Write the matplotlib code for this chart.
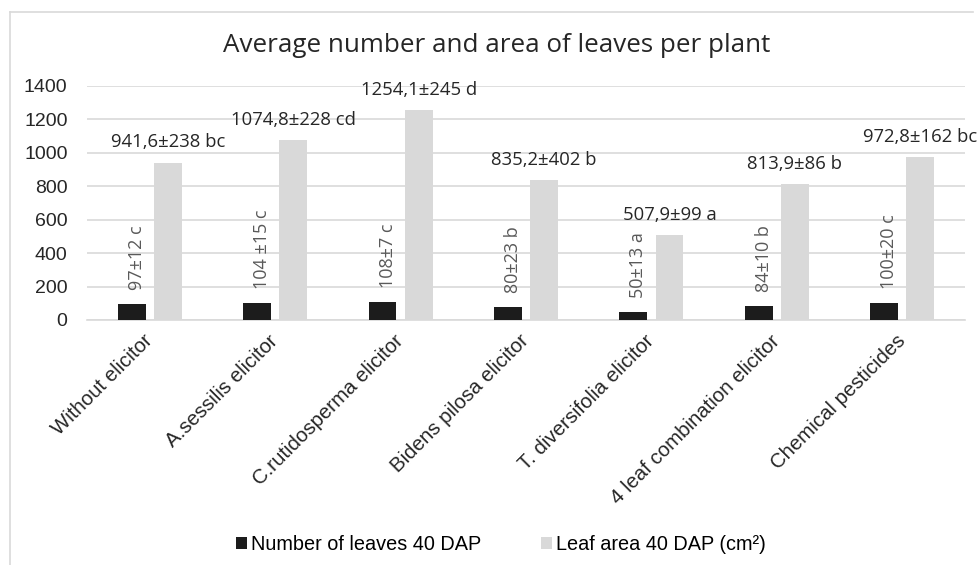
#!/usr/bin/env python3
"""Average number and area of leaves per plant, grouped bars."""

import matplotlib
matplotlib.use("Agg")
import matplotlib.pyplot as plt
from matplotlib.lines import Line2D
from matplotlib.patches import Patch
import numpy as np

BLACK = "#1c1c1c"
LIGHT = "#d9d9d9"
GRID = "#d9d9d9"
LABEL_GRAY = "#595959"
TEXT = "#262626"

categories = [
    "Without elicitor",
    "A.sessilis elicitor",
    "C.rutidosperma elicitor",
    "Bidens pilosa elicitor",
    "T. diversifolia elicitor",
    "4 leaf combination elicitor",
    "Chemical pesticides",
]
leaf_count = [97, 104, 108, 80, 50, 84, 100]
leaf_area = [941.6, 1074.8, 1254.1, 835.2, 507.9, 813.9, 972.8]
count_labels = ["97±12 c", "104 ±15 c", "108±7 c", "80±23 b", "50±13 a", "84±10 b", "100±20 c"]
area_labels = ["941,6±238 bc", "1074,8±228 cd", "1254,1±245 d", "835,2±402 b",
               "507,9±99 a", "813,9±86 b", "972,8±162 bc"]
yticks = [0, 200, 400, 600, 800, 1000, 1200, 1400]

ARIAL = "Liberation Sans"
LABEL_FONT = "Open Sans"

fig = plt.figure(figsize=(9.79, 5.65), dpi=100)
ax = fig.add_axes([87 / 979, 1 - 320 / 565, (965 - 87) / 979, (320 - 86) / 565])

x = np.arange(len(categories))
w = 0.223
off = 0.144
b1 = ax.bar(x - off, leaf_count, width=w, color=BLACK, zorder=3)
b2 = ax.bar(x + off, leaf_area, width=w, color=LIGHT, zorder=3)

for rect, text in zip(b1, count_labels):
    ax.annotate(text, (rect.get_x() + rect.get_width() / 2 + 0.04, rect.get_height()),
                xytext=(0, 10), textcoords="offset points", rotation=90,
                ha="center", va="bottom", fontsize=13, color=LABEL_GRAY,
                family=LABEL_FONT, annotation_clip=False)
for rect, text in zip(b2, area_labels):
    ax.annotate(text, (rect.get_x() + rect.get_width() / 2, rect.get_height()),
                xytext=(0, 11), textcoords="offset points",
                ha="center", va="baseline", fontsize=13.3, color=TEXT,
                family=LABEL_FONT, annotation_clip=False)

ax.set_xlim(-0.5, len(categories) - 0.5)
ax.set_ylim(0, 1400)
ax.set_yticks(yticks)
ax.set_yticklabels([str(v) for v in yticks], family=ARIAL, fontsize=14, color=TEXT)
ax.tick_params(axis="y", length=0, pad=14)
ax.tick_params(axis="x", length=0, pad=13)
ax.set_xticks(x)
ax.set_xticklabels(categories, rotation=45, ha="right", va="center", rotation_mode="anchor",
                   family=ARIAL, fontsize=14.7, color=TEXT)
ax.grid(axis="y", color=GRID, linewidth=1.2, zorder=0)
for side in ["top", "right", "left"]:
    ax.spines[side].set_visible(False)
ax.spines["bottom"].set_color(GRID)
ax.spines["bottom"].set_linewidth(1.2)

fig.text(497 / 979, 1 - 45 / 565, "Average number and area of leaves per plant",
         ha="center", va="center", fontsize=18.7, family=LABEL_FONT, color=TEXT)

handles = [Patch(facecolor=BLACK, label="Number of leaves 40 DAP"),
           Patch(facecolor=LIGHT, label="Leaf area 40 DAP (cm²)")]
fig.legend(handles=handles, loc="center", bbox_to_anchor=(501 / 979, 1 - 545 / 565),
           ncol=2, frameon=False, prop={"family": ARIAL, "size": 14.3},
           handlelength=0.55, handleheight=0.55, handletextpad=0.2, columnspacing=3.0)

# chart border (only top and left edges fall inside the picture)
fig.add_artist(Line2D([10 / 979, 10 / 979], [0, 1 - 12 / 565], color=GRID, lw=1.2))
fig.add_artist(Line2D([10 / 979, 973 / 979], [1 - 12 / 565, 1 - 12 / 565], color=GRID, lw=1.2))

fig.savefig("out.png", dpi=100)
